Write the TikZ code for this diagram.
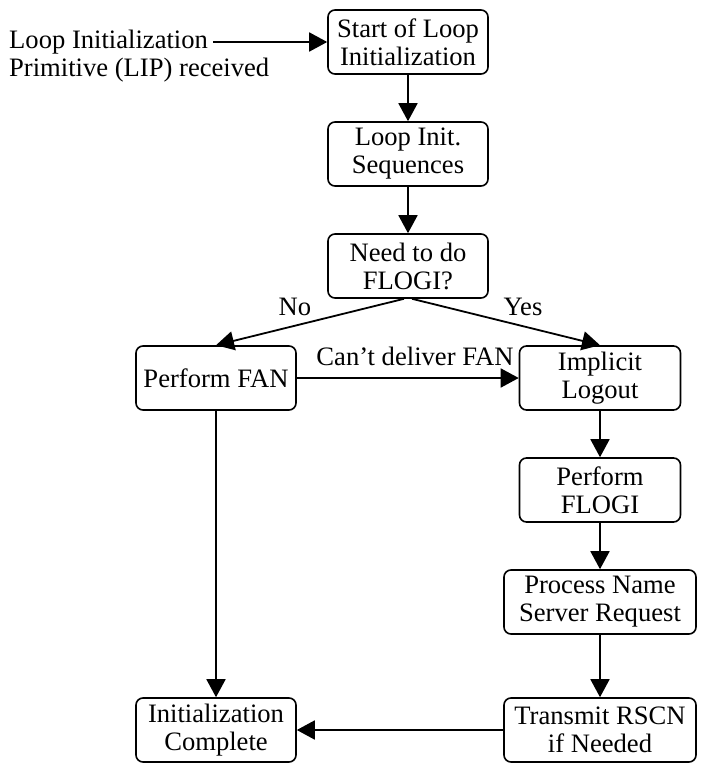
\documentclass[tikz,border=0pt]{standalone}
\usepackage{fontspec}
\setmainfont{Liberation Serif}
\usetikzlibrary{arrows.meta}
\begin{document}
\begin{tikzpicture}[x=1pt,y=-1pt,
  txt/.style={font=\fontsize{26.6}{28}\selectfont},
  box/.style={txt, draw, line width=1.6pt, rounded corners=7pt, align=center,
              inner sep=0pt, minimum height=64pt},
  lbl/.style={txt, inner sep=0pt},
  flow/.style={line width=1.8pt, -{Triangle[length=18pt,width=19pt]}}]
\useasboundingbox (0,0) rectangle (705,764);

% process boxes
\node[box, minimum width=160pt] (start) at (408,42)  {Start of Loop\\Initialization};
\node[box, minimum width=160pt] (seq)   at (408,154) {Loop Init.\\Sequences};
\node[box, minimum width=160pt] (need)  at (408,266) {Need to do\\FLOGI?};
\node[box, minimum width=160pt] (fan)   at (216,378) {Perform FAN};
\node[box, minimum width=161pt] (logout) at (600,378) {Implicit\\Logout};
\node[box, minimum width=161pt] (flogi) at (600,490) {Perform\\FLOGI};
\node[box, minimum width=192pt] (ns)    at (600,602) {Process Name\\Server Request};
\node[box, minimum width=160pt] (done)  at (216,730) {Initialization\\Complete};
\node[box, minimum width=192pt] (rscn)  at (600,730) {Transmit RSCN\\if Needed};

% incoming primitive
\node[lbl, anchor=west] (lip1) at (9,42) {Loop Initialization};
\node[lbl, anchor=west] (lip2) at (9,70) {Primitive (LIP) received};

% branch labels
\node[lbl] (no)  at (295,307) {No};
\node[lbl] (yes) at (523,307) {Yes};
\node[lbl] (cant) at (415,356) {Can’t deliver FAN};

% connectors
\draw[flow] ([xshift=5pt]lip1.east) -- (start.west);
\draw[flow] (start) -- (seq);
\draw[flow] (seq) -- (need);
\draw[flow] ([xshift=-4pt]need.south) -- (fan.north);
\draw[flow] ([xshift=4pt]need.south) -- (logout.north);
\draw[flow] (fan) -- (logout);
\draw[flow] (logout) -- (flogi);
\draw[flow] (flogi) -- (ns);
\draw[flow] (ns) -- (rscn);
\draw[flow] (fan) -- (done);
\draw[flow] (rscn) -- (done);
\end{tikzpicture}
\end{document}
